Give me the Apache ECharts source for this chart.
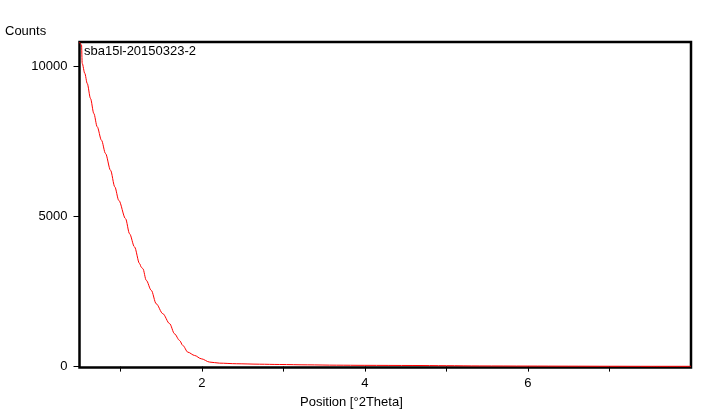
<!DOCTYPE html>
<html>
<head>
<meta charset="utf-8">
<script src="https://cdn.jsdelivr.net/npm/echarts@6/dist/echarts.min.js"></script>
<style>
  html, body { margin: 0; padding: 0; background: #fff; }
  #chart { width: 712px; height: 410px; }
</style>
</head>
<body>
<div id="chart"></div>
<script>
// scan: position [°2Theta] and counts
const seriesName = 'sba15l-20150323-2';
const positions = [
  0.50, 0.525, 0.533, 0.565, 0.595, 0.635, 0.676, 0.717, 0.770, 0.819,
  0.881, 0.933, 0.982, 1.065, 1.114, 1.175, 1.236, 1.260, 1.277, 1.319,
  1.380, 1.441, 1.522, 1.605, 1.666, 1.727, 1.768, 1.829, 1.912, 1.994,
  2.096, 2.218, 2.423, 2.709, 2.955, 3.30, 3.65, 4.00, 4.59, 5.00,
  5.41, 6.00, 6.50, 7.00, 7.50, 8.00
];
const counts = [
  10800, 10700, 10090, 9756, 9420, 8920, 8420, 7980, 7530, 7090,
  6530, 5980, 5530, 4920, 4420, 3980, 3430, 3300, 3260, 2870,
  2540, 2090, 1760, 1430, 1090, 870, 700, 480, 370, 260,
  150, 115, 95, 80, 70, 58, 47, 42, 37, 30,
  22, 18, 15, 12, 10, 10
];
const xTicks = [1, 2, 3, 4, 5, 6, 7];
const xLabels = [2, 4, 6];
const yTicks = [0, 5000, 10000];

const myChart = echarts.init(document.getElementById('chart'));
const font = 'Liberation Sans, Arial, sans-serif';
const option = {
  animation: false,
  title: [
    {
      text: 'Counts',
      left: 5,
      top: 25,
      padding: 0,
      textStyle: { fontFamily: font, fontSize: 13, fontWeight: 'normal', color: '#000' },
    },
    {
      text: 'Position [°2Theta]',
      left: 300,
      top: 396,
      padding: 0,
      textStyle: { fontFamily: font, fontSize: 13, fontWeight: 'normal', color: '#000' },
    },
  ],
  legend: {
    data: [seriesName],
    left: 79,
    top: 45,
    padding: 0,
    itemWidth: 0,
    itemHeight: 0,
    icon: 'none',
    textStyle: { fontFamily: font, fontSize: 13, color: '#000' },
  },
  grid: {
    left: 79.5,
    right: 21,
    top: 42,
    bottom: 42.5,
    show: true,
    borderColor: '#000',
    borderWidth: 2.5,
    backgroundColor: '#fff',
  },
  xAxis: {
    type: 'value',
    min: 0.5,
    max: 8,
    axisLine: { show: false },
    splitLine: { show: false },
    axisTick: { show: true, length: 5, customValues: xTicks, lineStyle: { color: '#000' } },
    axisLabel: {
      customValues: xLabels,
      margin: 9,
      fontFamily: font,
      fontSize: 13,
      color: '#000',
      formatter: (v) => String(v),
    },
  },
  yAxis: {
    type: 'value',
    min: -30,
    max: 10800,
    axisLine: { show: false },
    splitLine: { show: false },
    axisTick: { show: true, length: 6, customValues: yTicks, lineStyle: { color: '#000' } },
    axisLabel: {
      customValues: yTicks,
      margin: 12,
      fontFamily: font,
      fontSize: 13,
      color: '#000',
      formatter: (v) => String(v),
    },
  },
  series: [
    {
      name: seriesName,
      type: 'line',
      symbol: 'none',
      smooth: 0.3,
      smoothMonotone: 'x',
      lineStyle: { color: '#ff0000', width: 1 },
      itemStyle: { color: '#ff0000' },
      data: positions.map((p, i) => [p, counts[i]]),
    },
  ],
};
myChart.setOption(option);
</script>
</body>
</html>
